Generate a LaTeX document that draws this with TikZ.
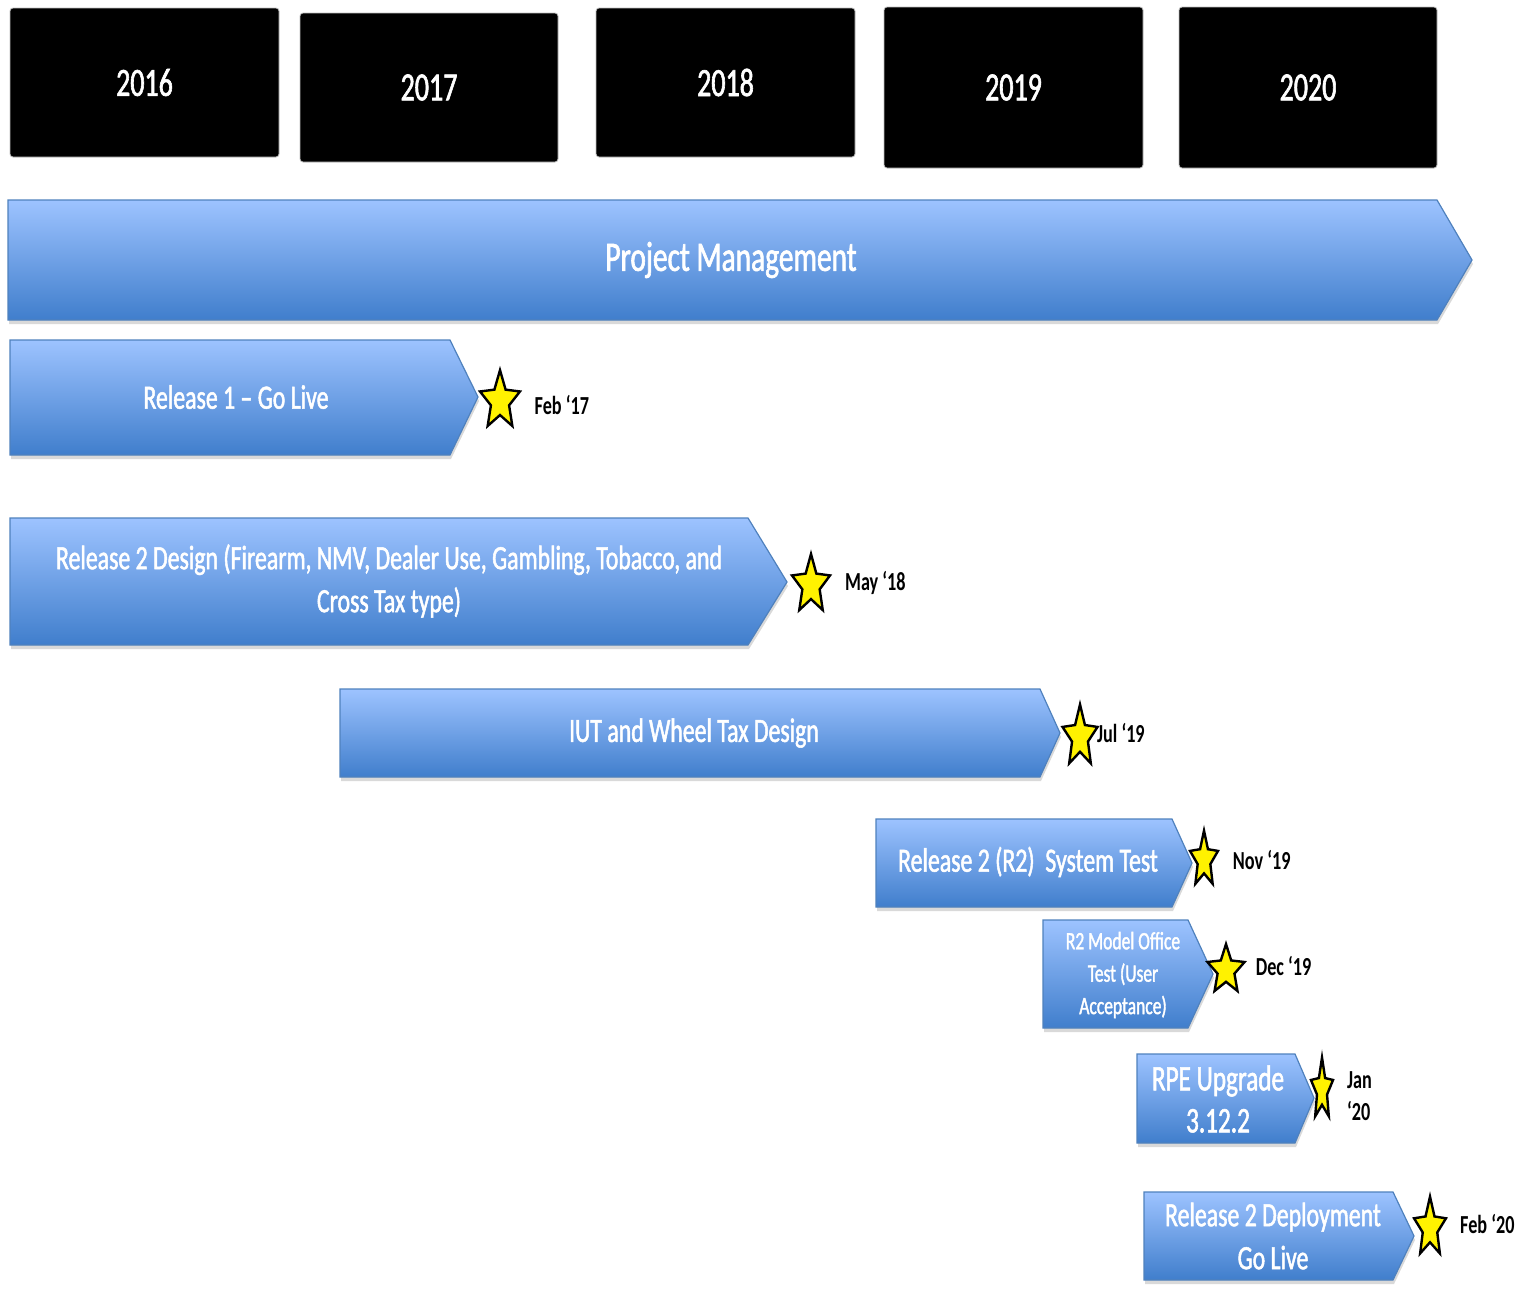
\documentclass[tikz,border=0pt]{standalone}
\usepackage{fontspec}
\setmainfont{Carlito}[FakeStretch=0.7]
\newfontfamily\barfont{Carlito}[FakeStretch=0.7, FakeBold=1.5, Ligatures=TeX]
\usetikzlibrary{shapes.geometric, shadows, positioning}

\definecolor{barTop}{RGB}{157,195,255}
\definecolor{barBot}{RGB}{64,126,204}
\definecolor{barLine}{RGB}{79,129,189}

\tikzset{
  yearbox/.style={fill=black, draw=gray!50, rounded corners=1.5pt, text=white, inner sep=0pt,
    font=\barfont\fontsize{20}{24}\selectfont},
  bar/.style={draw=barLine, line width=0.6pt, top color=barTop, bottom color=barBot,
    drop shadow={shadow xshift=0.5pt, shadow yshift=-2pt, opacity=0.3}},
  bartext/.style={text=white, align=center, inner sep=0pt, font=\barfont\fontsize{17}{21.5}\selectfont},
  milestone/.style={star, star points=5, star point ratio=2.2, draw=black, line width=1.2pt,
    fill=yellow, inner sep=0pt, transform shape},
  datelabel/.style={align=left, inner sep=0pt, font=\bfseries\fontsize{13}{16}\selectfont},
}

\begin{document}
\begin{tikzpicture}[x=0.5pt, y=-0.5pt]
    \useasboundingbox (0,0) rectangle (1525,1290);

    % years
    \node[yearbox, minimum width=134.5pt, minimum height=74.5pt] (y2016) at (144.5,82.5) {2016};
    \node[yearbox, minimum width=129pt, minimum height=74.5pt] (y2017) at (429,87.5) {2017};
    \node[yearbox, minimum width=129.5pt, minimum height=74.5pt] (y2018) at (725.5,82.5) {2018};
    \node[yearbox, minimum width=129.5pt, minimum height=80.5pt] (y2019) at (1013.5,87.5) {2019};
    \node[yearbox, minimum width=129pt, minimum height=80.5pt] (y2020) at (1308,87.5) {2020};

    % bars
    \draw[bar] (8,200) -- (1437,200) -- (1472,260) -- (1437,320) -- (8,320) -- cycle;
    \node[bartext, font=\barfont\fontsize{21}{25}\selectfont] (pm) at (731,260) {Project Management};

    \draw[bar] (10,340) -- (450,340) -- (478,397) -- (450,455) -- (10,455) -- cycle;
    \node[bartext] (r1) at (236,397) {Release 1 – Go Live};

    \draw[bar] (10,518) -- (748,518) -- (787,582) -- (748,645) -- (10,645) -- cycle;
    \node[bartext] (r2d) at (389,581) {Release 2 Design (Firearm, NMV, Dealer Use, Gambling, Tobacco, and\\Cross Tax type)};

    \draw[bar] (340,689) -- (1040,689) -- (1060,733) -- (1040,777) -- (340,777) -- cycle;
    \node[bartext] (iut) at (694,733) {IUT and Wheel Tax Design};

    \draw[bar] (876,819) -- (1172,819) -- (1192,863) -- (1172,907) -- (876,907) -- cycle;
    \node[bartext] (st) at (1028,862) {Release 2 (R2)\ \ System Test};

    \draw[bar] (1043,920) -- (1188,920) -- (1213,974) -- (1188,1028) -- (1043,1028) -- cycle;
    \node[bartext, font=\barfont\fontsize{12.5}{16.2}\selectfont] (mo) at (1123,975) {R2 Model Office\\Test (User\\Acceptance)};

    \draw[bar] (1137,1054) -- (1295,1054) -- (1314,1098) -- (1295,1143) -- (1137,1143) -- cycle;
    \node[bartext, font=\barfont\fontsize{18}{21}\selectfont] (rpe) at (1218,1099) {RPE Upgrade\\3.12.2};

    \draw[bar] (1144,1192) -- (1393,1192) -- (1414,1236) -- (1393,1280) -- (1144,1280) -- cycle;
    \node[bartext] (dep) at (1273,1236) {Release 2 Deployment\\Go Live};

    % milestones
    \node[milestone, minimum size=21pt, yscale=1.47] (s1) at (500,401) {};
    \node[milestone, minimum size=20pt, yscale=1.55] (s2) at (811,585) {};
    \node[milestone, minimum size=18.4pt, yscale=1.77] (s3) at (1080,737) {};
    \node[milestone, minimum size=14.7pt, yscale=2.0] (s4) at (1204,860) {};
    \node[milestone, minimum size=19.5pt, yscale=1.33] (s5) at (1226,970) {};
    \node[milestone, minimum size=11.6pt, yscale=2.8] (s6) at (1322,1090) {};
    \node[milestone, minimum size=16.8pt, yscale=1.87] (s7) at (1430,1228) {};

    \node[datelabel, right=10pt of s1, yshift=-2pt] (d1) {Feb ‘17};
    \node[datelabel, right=10pt of s2, yshift=1pt] (d2) {May ‘18};
    \node[datelabel, right=2pt of s3, yshift=2pt] (d3) {Jul ‘19};
    \node[datelabel, right=9pt of s4] (d4) {Nov ‘19};
    \node[datelabel, right=8pt of s5, yshift=2pt] (d5) {Dec ‘19};
    \node[datelabel, right=8pt of s6, yshift=-3pt] (d6) {Jan\\‘20};
    \node[datelabel, right=9pt of s7, yshift=2pt] (d7) {Feb ‘20};
\end{tikzpicture}
\end{document}
